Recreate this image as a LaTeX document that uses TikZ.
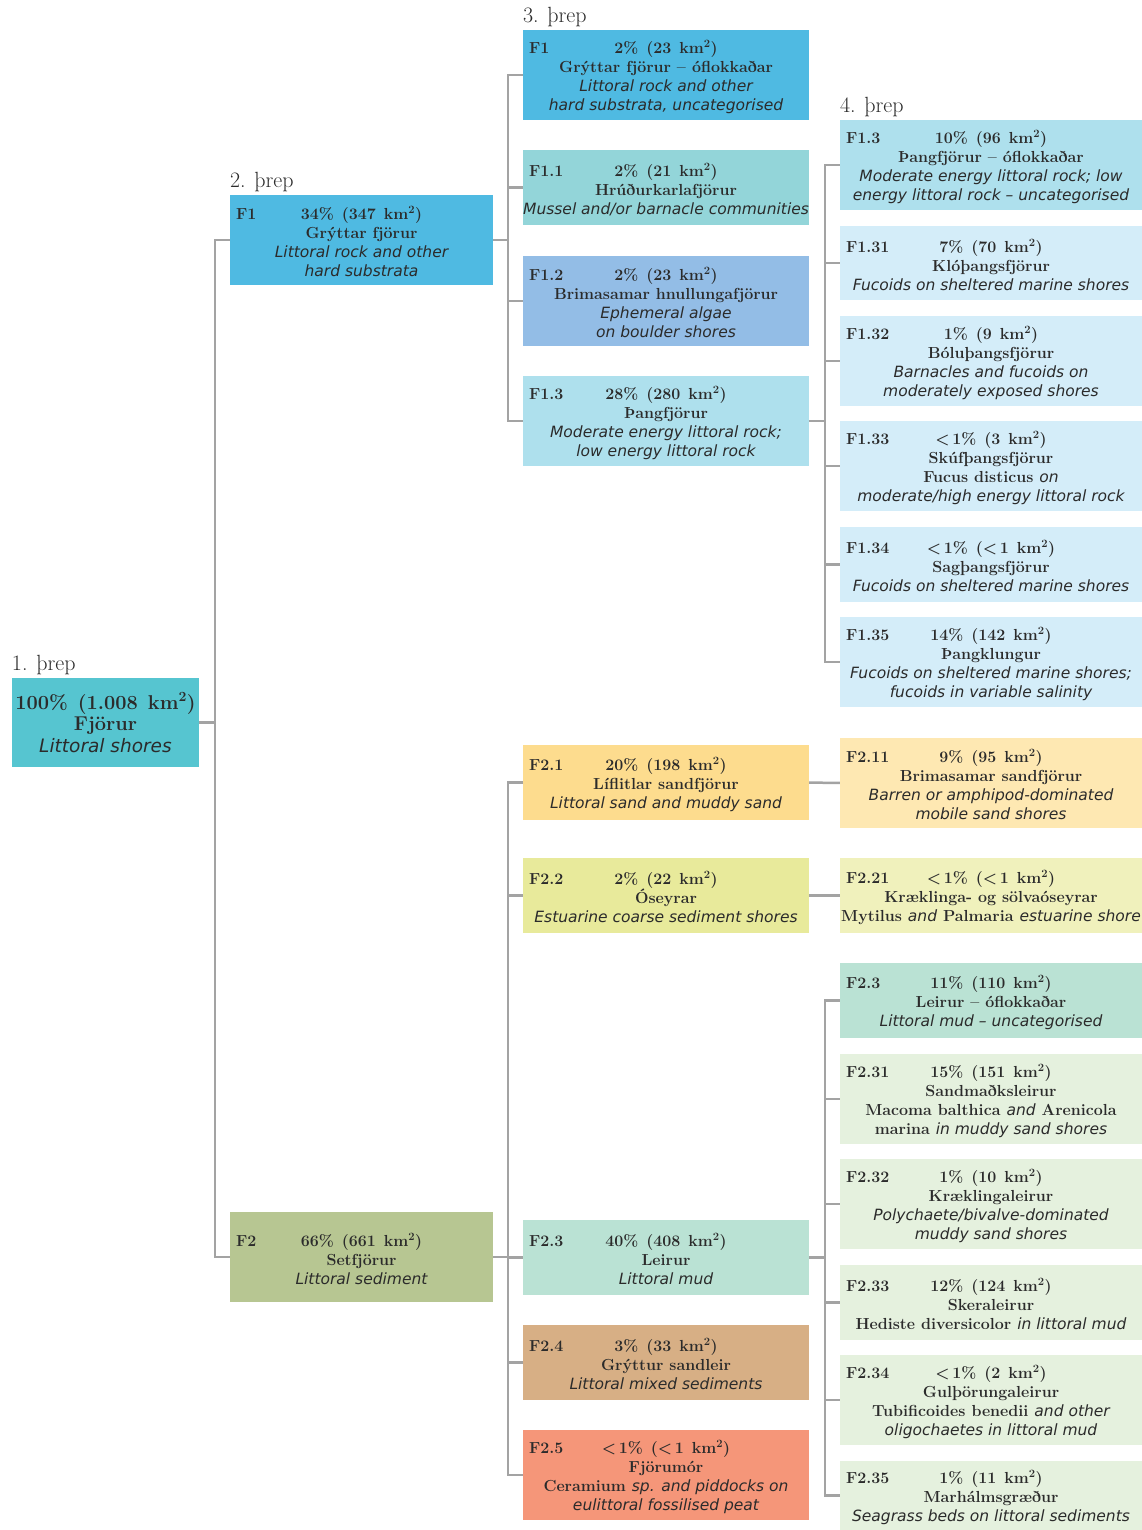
\documentclass[tikz,border=0pt]{standalone}
\usepackage{fontspec}
\newfontfamily\engfont{DejaVu Sans}
\definecolor{txt}{HTML}{2B2B2B}
\definecolor{lineg}{HTML}{A3A3A3}
\definecolor{cRoot}{HTML}{56C5D0}
\definecolor{cRock}{HTML}{4FBAE2}
\definecolor{cSed}{HTML}{B7C692}
\definecolor{cMussel}{HTML}{93D5D9}
\definecolor{cBoulder}{HTML}{93BDE6}
\definecolor{cFuc}{HTML}{AEE0ED}
\definecolor{cFucL}{HTML}{D4EDF9}
\definecolor{cSand}{HTML}{FDDC8E}
\definecolor{cSandL}{HTML}{FEE8B2}
\definecolor{cEst}{HTML}{E8EA9B}
\definecolor{cEstL}{HTML}{F0F1BC}
\definecolor{cMud}{HTML}{BAE2D4}
\definecolor{cMudL}{HTML}{E5F1DE}
\definecolor{cMix}{HTML}{D7AF85}
\definecolor{cPeat}{HTML}{F59679}
\newcommand\pline[3]{{\fontsize{16}{19}\selectfont\makebox[#1][c]{\rule{0pt}{17pt}\hspace*{6pt}\rlap{#2}\hfill#3\hfill\hspace*{6pt}}}}
\newcommand\pct[2]{#1\enspace(#2\enspace km\textsuperscript{2})}
\newcommand\en[1]{{\engfont\mdseries\itshape\fontsize{15.5}{19}\selectfont#1}}
\begin{document}
\begin{tikzpicture}[x=1pt, y=-1pt,
  box/.style={inner xsep=0pt, inner ysep=0pt, text=txt, align=center,
    font=\bfseries\fontsize{16}{19}\selectfont},
  ltwo/.style={box, minimum width=263pt},
  lthree/.style={box, minimum width=286pt},
  lfour/.style={box, minimum width=302pt},
  hdr/.style={anchor=base west, inner sep=0pt, text=txt, font=\fontsize{22}{24}\selectfont},
  conn/.style={draw=lineg, line width=2.5pt}]
\useasboundingbox (0,0) rectangle (1142,1530);

% 1. level
\node[box, fill=cRoot, minimum width=187pt, minimum height=89pt,
  font=\bfseries\fontsize{20}{21.5}\selectfont] (fj) at (105.5,722.5)
  {100\%\enspace(1.008\enspace km\textsuperscript{2})\\Fjörur\\{\engfont\mdseries\itshape\fontsize{18.5}{21.5}\selectfont Littoral shores}};

% 2. level
\node[ltwo, fill=cRock, minimum height=90pt] (F1) at (361.5,240)
  {\pline{263pt}{F1}{\pct{34\%}{347}}\\Grýttar fjörur\\\en{Littoral rock and other}\\\en{hard substrata}};
\node[ltwo, fill=cSed, minimum height=90pt] (F2) at (361.5,1257)
  {\pline{263pt}{F2}{\pct{66\%}{661}}\\Setfjörur\\\en{Littoral sediment}};

% 3. level
\node[lthree, fill=cRock, minimum height=90pt] (F1o) at (666,75)
  {\pline{286pt}{F1}{\pct{2\%}{23}}\\Grýttar fjörur – óflokkaðar\\\en{Littoral rock and other}\\\en{hard substrata, uncategorised}};
\node[lthree, fill=cMussel, minimum height=75pt] (F11) at (666,187.5)
  {\pline{286pt}{F1.1}{\pct{2\%}{21}}\\Hrúðurkarlafjörur\\\en{Mussel and/or barnacle communities}};
\node[lthree, fill=cBoulder, minimum height=90pt] (F12) at (666,301)
  {\pline{286pt}{F1.2}{\pct{2\%}{23}}\\Brimasamar hnullungafjörur\\\en{Ephemeral algae}\\\en{on boulder shores}};
\node[lthree, fill=cFuc, minimum height=90pt] (F13) at (666,421)
  {\pline{286pt}{F1.3}{\pct{28\%}{280}}\\Þangfjörur\\\en{Moderate energy littoral rock;}\\\en{low energy littoral rock}};
\node[lthree, fill=cSand, minimum height=75pt] (F21) at (666,782.5)
  {\pline{286pt}{F2.1}{\pct{20\%}{198}}\\Líflitlar sandfjörur\\\en{Littoral sand and muddy sand}};
\node[lthree, fill=cEst, minimum height=75pt] (F22) at (666,895.5)
  {\pline{286pt}{F2.2}{\pct{2\%}{22}}\\Óseyrar\\\en{Estuarine coarse sediment shores}};
\node[lthree, fill=cMud, minimum height=75pt] (F23) at (666,1257.5)
  {\pline{286pt}{F2.3}{\pct{40\%}{408}}\\Leirur\\\en{Littoral mud}};
\node[lthree, fill=cMix, minimum height=75pt] (F24) at (666,1362.5)
  {\pline{286pt}{F2.4}{\pct{3\%}{33}}\\Grýttur sandleir\\\en{Littoral mixed sediments}};
\node[lthree, fill=cPeat, minimum height=90pt] (F25) at (666,1475)
  {\pline{286pt}{F2.5}{\pct{<\,1\%}{<\,1}}\\Fjörumór\\Ceramium \en{sp. and piddocks on}\\\en{eulittoral fossilised peat}};

% 4. level
\node[lfour, fill=cFuc, minimum height=90pt] (F13o) at (991,165)
  {\pline{302pt}{F1.3}{\pct{10\%}{96}}\\Þangfjörur – óflokkaðar\\\en{Moderate energy littoral rock; low}\\\en{energy littoral rock – uncategorised}};
\node[lfour, fill=cFucL, minimum height=74pt] (F131) at (991,263)
  {\pline{302pt}{F1.31}{\pct{7\%}{70}}\\Klóþangsfjörur\\\en{Fucoids on sheltered marine shores}};
\node[lfour, fill=cFucL, minimum height=90pt] (F132) at (991,361)
  {\pline{302pt}{F1.32}{\pct{1\%}{9}}\\Bóluþangsfjörur\\\en{Barnacles and fucoids on}\\\en{moderately exposed shores}};
\node[lfour, fill=cFucL, minimum height=90pt] (F133) at (991,466)
  {\pline{302pt}{F1.33}{\pct{<\,1\%}{3}}\\Skúfþangsfjörur\\Fucus disticus \en{on}\\\en{moderate/high energy littoral rock}};
\node[lfour, fill=cFucL, minimum height=75pt] (F134) at (991,564.5)
  {\pline{302pt}{F1.34}{\pct{<\,1\%}{<\,1}}\\Sagþangsfjörur\\\en{Fucoids on sheltered marine shores}};
\node[lfour, fill=cFucL, minimum height=90pt] (F135) at (991,662)
  {\pline{302pt}{F1.35}{\pct{14\%}{142}}\\Þangklungur\\\en{Fucoids on sheltered marine shores;}\\\en{fucoids in variable salinity}};
\node[lfour, fill=cSandL, minimum height=90pt] (F211) at (991,783)
  {\pline{302pt}{F2.11}{\pct{9\%}{95}}\\Brimasamar sandfjörur\\\en{Barren or amphipod-dominated}\\\en{mobile sand shores}};
\node[lfour, fill=cEstL, minimum height=75pt] (F221) at (991,895.5)
  {\pline{302pt}{F2.21}{\pct{<\,1\%}{<\,1}}\\Kræklinga- og sölvaóseyrar\\Mytilus \en{and} Palmaria \en{estuarine shore}};
\node[lfour, fill=cMud, minimum height=75pt] (F23o) at (991,1000.5)
  {\pline{302pt}{F2.3}{\pct{11\%}{110}}\\Leirur – óflokkaðar\\\en{Littoral mud – uncategorised}};
\node[lfour, fill=cMudL, minimum height=90pt] (F231) at (991,1099)
  {\pline{302pt}{F2.31}{\pct{15\%}{151}}\\Sandmaðksleirur\\Macoma balthica \en{and} Arenicola\\marina \en{in muddy sand shores}};
\node[lfour, fill=cMudL, minimum height=90pt] (F232) at (991,1204)
  {\pline{302pt}{F2.32}{\pct{1\%}{10}}\\Kræklingaleirur\\\en{Polychaete/bivalve-dominated}\\\en{muddy sand shores}};
\node[lfour, fill=cMudL, minimum height=75pt] (F233) at (991,1302.5)
  {\pline{302pt}{F2.33}{\pct{12\%}{124}}\\Skeraleirur\\Hediste diversicolor \en{in littoral mud}};
\node[lfour, fill=cMudL, minimum height=90pt] (F234) at (991,1400)
  {\pline{302pt}{F2.34}{\pct{<\,1\%}{2}}\\Gulþörungaleirur\\Tubificoides benedii \en{and other}\\\en{oligochaetes in littoral mud}};
\node[lfour, fill=cMudL, minimum height=69pt] (F235) at (991,1495.5)
  {\pline{302pt}{F2.35}{\pct{1\%}{11}}\\Marhálmsgræður\\\en{Seagrass beds on littoral sediments}};

% headers
\node[hdr] (h1) at ([yshift=7pt]fj.north west) {1. þrep};
\node[hdr] (h2) at ([yshift=7pt]F1.north west) {2. þrep};
\node[hdr] (h3) at ([yshift=7pt]F1o.north west) {3. þrep};
\node[hdr] (h4) at ([yshift=7pt]F13o.north west) {4. þrep};

% connectors
\coordinate (t1) at (215,0);
\coordinate (t2) at (508,0);
\coordinate (t4) at (825,0);
\foreach \c in {F1,F2}
  \draw[conn] (fj.east) -- (fj.east -| t1) |- (\c.west);
\foreach \c in {F1o,F11,F12,F13}
  \draw[conn] (F1.east) -- (F1.east -| t2) |- (\c.west);
\foreach \c in {F21,F22,F23,F24,F25}
  \draw[conn] (F2.east) -- (F2.east -| t2) |- (\c.west);
\foreach \c in {F13o,F131,F132,F133,F134,F135}
  \draw[conn] (F13.east) -- (F13.east -| t4) |- (\c.west);
\foreach \c in {F23o,F231,F232,F233,F234,F235}
  \draw[conn] (F23.east) -- (F23.east -| t4) |- (\c.west);
\draw[conn] (F21) -- (F211);
\draw[conn] (F22) -- (F221);
\end{tikzpicture}
\end{document}
